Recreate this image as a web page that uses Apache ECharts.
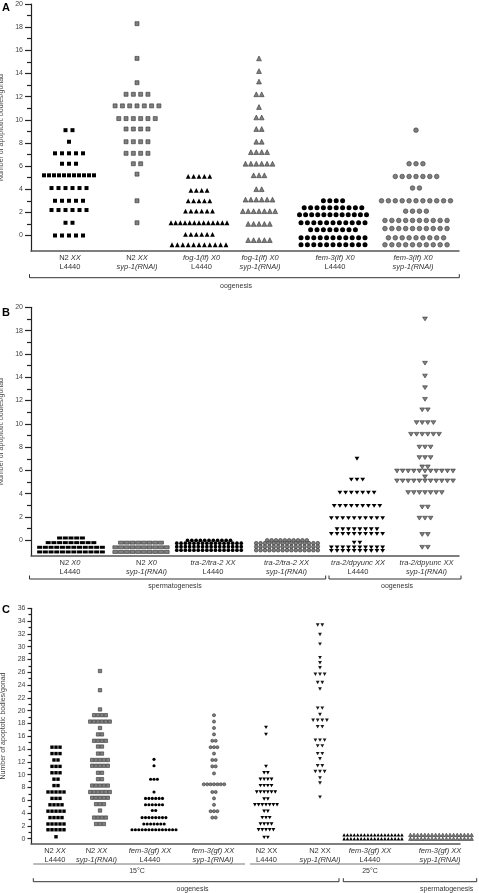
<!DOCTYPE html>
<html><head><meta charset="utf-8">
<script src="https://cdn.jsdelivr.net/npm/echarts@6/dist/echarts.min.js"></script>
<style>html,body{margin:0;padding:0;background:#fff}#c{width:479px;height:893px}</style>
</head><body><div id="c"></div>
<script>
const FONT = '"Liberation Sans", Arial, sans-serif';

// ---------------- tick labels ----------------
const yTicksAB = [0,2,4,6,8,10,12,14,16,18,20];
const yMinorAB = [1,3,5,7,9,11,13,15,17,19];
const yTicksC = [0,2,4,6,8,10,12,14,16,18,20,22,24,26,28,30,32,34,36];
const yMinorC = [1,3,5,7,9,11,13,15,17,19,21,23,25,27,29,31,33,35];
const yName = 'Number of apoptotic bodies/gonad';

// ---------------- categories ----------------
const catsA = [['N2 XX','L4440'],['N2 XX','syp-1(RNAi)'],['fog-1(lf) X0','L4440'],['fog-1(lf) X0','syp-1(RNAi)'],['fem-3(lf) X0','L4440'],['fem-3(lf) X0','syp-1(RNAi)']];
const catsB = [['N2 X0','L4440'],['N2 X0','syp-1(RNAi)'],['tra-2/tra-2 XX','L4440'],['tra-2/tra-2 XX','syp-1(RNAi)'],['tra-2/dpyunc XX','L4440'],['tra-2/dpyunc XX','syp-1(RNAi)']];
const catsC = [['N2 XX','L4440'],['N2 XX','syp-1(RNAi)'],['fem-3(gf) XX','L4440'],['fem-3(gf) XX','syp-1(RNAi)'],['N2 XX','L4440'],['N2 XX','syp-1(RNAi)'],['fem-3(gf) XX','L4440'],['fem-3(gf) XX','syp-1(RNAi)']];

// ---------------- values: rows of [apoptotic bodies (as plotted), number of gonads] ----------------
// Panel A
const A_N2_L4440   = [[9.1,2],[8.1,1],[7.1,5],[6.2,3],[5.2,11],[4.1,6],[3.0,5],[2.2,6],[1.1,2],[0,5]];
const A_N2_syp1    = [[18.3,1],[15.3,1],[13.2,1],[12.2,4],[11.2,7],[10.1,6],[9.2,4],[8.1,4],[7.1,4],[6.2,2],[5.3,1],[3.0,1],[1.1,1]];
const A_fog1_L4440 = [[5.1,5],[3.9,4],[3.0,5],[2.1,6],[1.1,13],[0.1,6],[-0.8,11]];
const A_fog1_syp1  = [[15.3,1],[14.2,1],[13.3,1],[12.2,2],[11.1,1],[10.2,2],[9.2,2],[8.1,2],[7.2,4],[6.2,6],[5.2,3],[4.0,2],[3.1,6],[2.1,7],[1.0,5],[-0.4,5]];
const A_fem3_L4440 = [[3.0,4],[2.4,10],[1.8,12],[1.1,11],[0.5,8],[-0.2,11],[-0.8,11]];
const A_fem3_syp1  = [[9.1,1],[6.2,3],[5.1,7],[4.1,2],[3.0,11],[2.1,4],[1.3,10],[0.6,10],[-0.2,9],[-0.8,10]];
// Panel B
const B_N2X0_L4440  = [[0.2,5],[-0.2,9],[-0.6,12],[-1.0,12]];
const B_N2X0_syp1   = [[-0.2,8],[-0.6,10],[-1.0,10]];
const B_tra2_L4440  = [[0.0,11],[-0.25,16],[-0.55,16],[-0.85,16]];
const B_tra2_syp1   = [[0.0,10],[-0.25,15],[-0.55,15],[-0.85,15]];
const B_dpy_L4440   = [[7.0,1],[5.2,3],[4.1,7],[2.95,9],[1.9,10],[0.95,8],[0.55,10],[-0.2,2],[-0.6,10],[-0.9,10]];
const B_dpy_syp1    = [[19.0,1],[15.2,1],[14.1,1],[13.1,1],[12.1,1],[11.2,2],[10.1,4],[9.1,6],[8.0,3],[7.1,3],[6.3,2],[5.95,11],[5.45,1],[5.1,11],[4.1,7],[2.85,2],[1.9,3],[0.5,2],[-0.6,2]];
// Panel C
const C_N2_L4440_15   = [[14.3,3],[13.3,3],[12.3,2],[11.3,3],[10.3,3],[9.3,2],[8.3,2],[7.3,5],[6.3,3],[5.3,4],[4.3,5],[3.3,4],[2.3,5],[1.4,5],[0.3,1]];
const C_N2_syp1_15    = [[26.2,1],[23.2,1],[20.2,1],[19.3,4],[18.3,6],[17.3,1],[16.3,2],[15.3,4],[14.4,2],[13.3,2],[12.3,5],[11.4,5],[10.3,2],[9.3,2],[8.3,5],[7.3,6],[6.4,5],[5.4,3],[4.4,1],[3.3,4],[2.3,3]];
const C_fem3_L4440_15 = [[12.4,1],[11.4,1],[9.3,3],[7.3,1],[6.3,6],[5.3,6],[4.4,2],[3.3,8],[2.3,7],[1.4,14]];
const C_fem3_syp1_15  = [[19.3,1],[18.3,1],[17.3,1],[16.3,1],[15.3,2],[14.3,3],[13.3,1],[12.3,2],[11.3,2],[10.2,1],[8.5,7],[7.3,2],[6.3,1],[5.3,1],[4.3,3],[3.3,2]];
const C_N2_L4440_25   = [[17.4,1],[16.3,1],[11.3,1],[10.3,2],[9.3,4],[8.3,4],[7.3,6],[6.2,2],[5.3,7],[4.3,2],[3.3,3],[2.3,4],[1.4,5],[0.2,2]];
const C_N2_syp1_25    = [[33.4,2],[31.9,1],[30.4,1],[28.3,1],[27.5,1],[26.7,1],[25.7,3],[24.4,2],[23.4,1],[20.4,2],[19.4,1],[18.5,4],[17.5,2],[15.4,3],[14.5,2],[13.3,2],[12.5,1],[11.4,2],[10.5,3],[9.5,1],[8.7,1],[6.5,1]];
const C_fem3_L4440_25 = [[0.6,18],[0.0,18]];
const C_fem3_syp1_25  = [[0.6,18],[0.0,18]];

// ---------------- layout & style ----------------
const BLACK = {color:'#000', borderColor:'#000', borderWidth:0};
const GRAY  = {color:'#808080', borderColor:'#333', borderWidth:0.6};
const panels = [
  { grid:{left:31, top:4, width:428}, max:20, zeroY:235.5, bottomY:251,
    ticks:yTicksAB, minor:yMinorAB, tickLen:6, minorLen:4, cats:catsA, upXX:[],
    groups:[A_N2_L4440,A_N2_syp1,A_fog1_L4440,A_fog1_syp1,A_fem3_L4440,A_fem3_syp1],
    centers:[38,106,168,228,302,385], labelX:[39,106,170.5,229,304,382],
    spacing:[7,7.3,5.4,5.4,6.4,6.9], maxW:[50,44,56,60,67,70],
    marks:[['rect',4,BLACK,0],['rect',4,GRAY,0],['triangle',4.8,BLACK,0],['triangle',4.8,GRAY,0],['circle',5,BLACK,0],['circle',4.6,GRAY,0]] },
  { grid:{left:31, top:307.3, width:428}, max:20, zeroY:540.3, bottomY:555.7,
    ticks:yTicksAB, minor:yMinorAB, tickLen:6, minorLen:4, cats:catsB, upXX:[],
    groups:[B_N2X0_L4440,B_N2X0_syp1,B_tra2_L4440,B_tra2_syp1,B_dpy_L4440,B_dpy_syp1],
    centers:[40,110,178,256,326,394], labelX:[39,115.5,182,255.5,327,395.5],
    spacing:[5.7,5.7,4.3,4.4,5.7,5.6], maxW:[70,60,66,64,52,58],
    marks:[['rect',[5,3],BLACK,0],['rect',[5,3],GRAY,0],['circle',3.7,BLACK,0],['circle',3.7,GRAY,0],['triangle',[4.8,3.8],BLACK,180],['triangle',[4.8,3.8],GRAY,180]] },
  { grid:{left:31, top:608.3, width:429}, max:36, zeroY:838.7, bottomY:843.7,
    ticks:yTicksC, minor:yMinorC, tickLen:3.5, minorLen:2.5, cats:catsC, upXX:[4,5],
    groups:[C_N2_L4440_15,C_N2_syp1_15,C_fem3_L4440_15,C_fem3_syp1_15,C_N2_L4440_25,C_N2_syp1_25,C_fem3_L4440_25,C_fem3_syp1_25],
    centers:[25,69,123,183,235,289,342,410], labelX:[24,65.5,119,182,235.5,289,339,409],
    spacing:[4.0,3.9,3.4,3.4,3.7,4.6,3.4,3.6], maxW:[40,40,44,40,40,40,60,62],
    marks:[['rect',3.4,BLACK,0],['rect',3.4,GRAY,0],['circle',3.1,BLACK,0],['circle',3.1,GRAY,0],['triangle',[3.8,3.4],BLACK,180],['triangle',[3.8,3.4],{color:'#1a1a1a',borderColor:'#000',borderWidth:0},180],['triangle',[3.6,3.4],BLACK,0],['triangle',[3.6,3.4],GRAY,0]] }
];

function swarm(rows, center, spacing, maxW){
  const pts = [];
  rows.forEach(([v,n]) => {
    const sp = n > 1 ? Math.min(spacing, maxW/(n-1)) : 0;
    for (let i = 0; i < n; i++) pts.push([center + (i-(n-1)/2)*sp, v]);
  });
  return pts;
}
function richLine(line, upXX){
  return line.split(' ').map(w => {
    const up = (w === 'N2' || w === 'L4440' || (upXX && w === 'XX'));
    return '{' + (up ? 'n' : 'i') + '|' + w + '}';
  }).join('{n| }');
}

const grids = [], xAxes = [], yAxes = [], series = [];
panels.forEach((p, pi) => {
  const unit = (p.zeroY - p.grid.top) / p.max;
  const min = -(p.bottomY - p.zeroY) / unit;
  grids.push({left:p.grid.left, top:p.grid.top, width:p.grid.width, height:p.bottomY - p.grid.top, containLabel:false, outerBoundsMode:'none'});
  xAxes.push({
    gridIndex:pi, type:'value', min:0, max:p.grid.width,
    axisLine:{show:true, onZero:false, lineStyle:{color:'#555', width:1.5}},
    axisTick:{show:false}, splitLine:{show:false},
    axisLabel:{
      customValues:p.labelX, margin:3, lineHeight:8.5,
      formatter:(v) => {
        let k = 0, best = 1e9;
        p.labelX.forEach((c,j) => { if (Math.abs(c-v) < best) { best = Math.abs(c-v); k = j; } });
        const up = p.upXX.indexOf(k) >= 0;
        return p.cats[k].map(l => richLine(l, up)).join('\n');
      },
      rich:{
        n:{fontFamily:FONT, fontSize:7.5, color:'#333', lineHeight:8.5},
        i:{fontFamily:FONT, fontSize:7.5, color:'#333', lineHeight:8.5, fontStyle:'italic'}
      }
    }
  });
  yAxes.push({
    gridIndex:pi, type:'value', min:min, max:p.max, position:'left',
    axisLine:{show:true, onZero:false, lineStyle:{color:'#222', width:1.2}},
    axisTick:{show:true, inside:false, length:p.tickLen, customValues:p.ticks, lineStyle:{color:'#222', width:1.2}},
    axisLabel:{customValues:p.ticks, fontFamily:FONT, fontSize:7, color:'#444', margin:p.tickLen + 2},
    splitLine:{show:false},
    name:yName, nameLocation:'middle', nameGap:19.5,
    nameTextStyle:{fontFamily:FONT, fontSize:7, color:'#444'}
  });
  yAxes.push({
    gridIndex:pi, type:'value', min:min, max:p.max, position:'left', offset:0,
    axisLine:{show:false},
    axisTick:{show:true, inside:false, length:p.minorLen, customValues:p.minor, lineStyle:{color:'#222', width:1.2}},
    axisLabel:{show:false}, splitLine:{show:false}
  });
  p.groups.forEach((rows, gi) => {
    const [sym, size, st, rot] = p.marks[gi];
    series.push({
      type:'scatter', xAxisIndex:pi, yAxisIndex:pi*2, silent:true, clip:false,
      symbol:sym, symbolSize:size, symbolRotate:rot,
      itemStyle:Object.assign({opacity:1}, st),
      data:swarm(rows, p.centers[gi], p.spacing[gi], p.maxW[gi])
    });
  });
});

function txt(x, y, s, opt){
  opt = opt || {};
  return {type:'text', x:x, y:y, silent:true, style:{text:s, font:opt.font || ('7px ' + FONT), fill:opt.fill || '#333',
    textAlign:opt.align || 'center', align:opt.align || 'center', textVerticalAlign:'middle', verticalAlign:'middle'}};
}
function bracket(x1, x2, y, h){
  return {type:'polyline', silent:true, shape:{points:[[x1,y-h],[x1,y],[x2,y],[x2,y-h]]}, style:{stroke:'#333', lineWidth:1, fill:null}};
}
function hline(x1, x2, y){
  return {type:'line', silent:true, shape:{x1:x1, y1:y, x2:x2, y2:y}, style:{stroke:'#777', lineWidth:1}};
}
const BOLD = 'bold 11px ' + FONT;
const graphics = [
  txt(2, 7.5, 'A', {font:BOLD, fill:'#000', align:'left'}),
  txt(2, 313.3, 'B', {font:BOLD, fill:'#000', align:'left'}),
  txt(2, 609.5, 'C', {font:BOLD, fill:'#000', align:'left'}),
  bracket(29.5, 459.3, 277.7, 3.5), txt(236, 286, 'oogenesis'),
  bracket(29.5, 325.7, 579, 3.5), txt(175, 586.3, 'spermatogenesis'),
  bracket(329, 461, 579, 3.5), txt(397, 586.3, 'oogenesis'),
  hline(33.3, 245, 864), txt(137, 871, '15°C'),
  hline(250, 460, 864), txt(370, 871, '25°C'),
  bracket(33.3, 339, 881.7, 3.5), txt(192.5, 888.7, 'oogenesis'),
  bracket(343.3, 476.7, 881.7, 3.5), txt(446.7, 888.7, 'spermatogenesis')
];

const chart = echarts.init(document.getElementById('c'), null, {renderer:'canvas'});
chart.setOption({
  animation:false, backgroundColor:'#fff',
  grid:grids, xAxis:xAxes, yAxis:yAxes, series:series,
  graphic:{elements:graphics}
});
</script></body></html>
